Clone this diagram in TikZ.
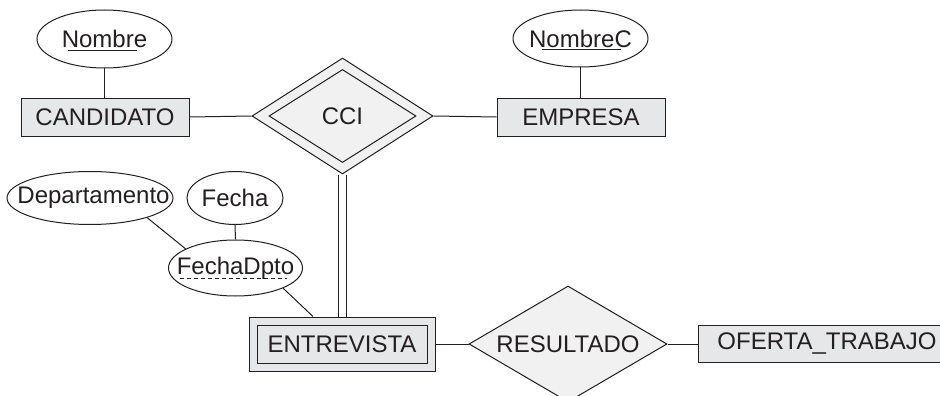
\documentclass[tikz,border=0pt]{standalone}
\usepackage{fontspec}
\setmainfont{Liberation Sans}
\usetikzlibrary{shapes.geometric,backgrounds}
\definecolor{ink}{HTML}{231F20}
\definecolor{entfill}{HTML}{E6E7E8}
\definecolor{relfill}{HTML}{F1F1F2}
\newcommand\zw[1]{\makebox[0pt]{#1}}
\begin{document}
\begin{tikzpicture}[x=1pt,y=-1pt,
  every node/.style={font=\fontsize{24}{28}\selectfont, text=ink, inner sep=0pt},
  ent/.style={draw=ink, fill=entfill, line width=1pt, rectangle, minimum height=38pt},
  attr/.style={draw=ink, fill=white, line width=1pt, ellipse},
  rel/.style={draw=ink, fill=relfill, line width=1pt, diamond},
  conn/.style={draw=ink, line width=1pt}]
\clip (0,0) rectangle (940,396);

% entities and attributes
\node[attr, minimum width=135pt, minimum height=58pt] (nombre) at (104.5,39) {\zw{Nombre}};
\node[ent, minimum width=168pt] (cand) at (105,117) {CANDIDATO};
\node[rel, minimum width=181pt, minimum height=116pt] (cci) at (342.5,116) {};
\node[rel, minimum width=147pt, minimum height=93pt] (ccii) at (342.5,116) {\zw{CCI}};
\node[ent, minimum width=168pt] (emp) at (581,117) {EMPRESA};
\node[attr, minimum width=135pt, minimum height=57pt] (nombrec) at (580.5,38.5) {\zw{NombreC}};

\node[attr, minimum width=166pt, minimum height=53pt] (dep) at (90,198) {\zw{\hspace{7pt}Departamento}};
\node[attr, minimum width=96pt, minimum height=53pt] (fecha) at (235,198) {\zw{Fecha}};
\node[attr, minimum width=134pt, minimum height=56pt] (fd) at (235.5,268) {\zw{FechaDpto}};

\node[ent, minimum width=186pt, minimum height=54pt] (entro) at (342,344) {};
\node[ent, minimum width=170pt, minimum height=38pt] (entr) at (342,344) {ENTREVISTA};
\node[rel, minimum width=198pt, minimum height=116pt] (res) at (568,344) {\zw{RESULTADO}};
\node[ent, minimum width=258pt, minimum height=37pt] (of) at (827,344) {OFERTA\_TRABAJO};

% underlines
\draw[ink, line width=0.9pt] ([xshift=-36.5pt,yshift=-11pt]nombre.center) -- ([xshift=32.5pt,yshift=-11pt]nombre.center);
\draw[ink, line width=0.9pt] ([xshift=-39pt,yshift=-11pt]nombrec.center) -- ([xshift=40.5pt,yshift=-11pt]nombrec.center);
\draw[ink, line width=0.9pt, dash pattern=on 4pt off 3pt] ([xshift=-55.5pt,yshift=-10pt]fd.center) -- ([xshift=51.5pt,yshift=-10pt]fd.center);

\begin{scope}[on background layer]
\fill[white] (0,0) rectangle (940,396);
\draw[conn] (nombre.south) -- (nombre.south |- cand.north);
\draw[conn] (cand.east) -- (cci.west);
\draw[conn] (cci.east) -- (emp.west);
\draw[conn] (nombrec.south) -- (nombrec.south |- emp.north);
\draw[conn] (dep.-19) -- (fd.159);
\draw[conn] (fecha.south) -- (fd.north);
\draw[conn] (fd.-23) -- ([xshift=-29pt]entro.north);
\draw[conn, double=white, double distance=7pt] (cci.south) -- (cci.south |- entro.north);
\draw[conn] (entro.east) -- (res.west);
\draw[conn] (res.east) -- (of.west);
\end{scope}
\end{tikzpicture}
\end{document}
